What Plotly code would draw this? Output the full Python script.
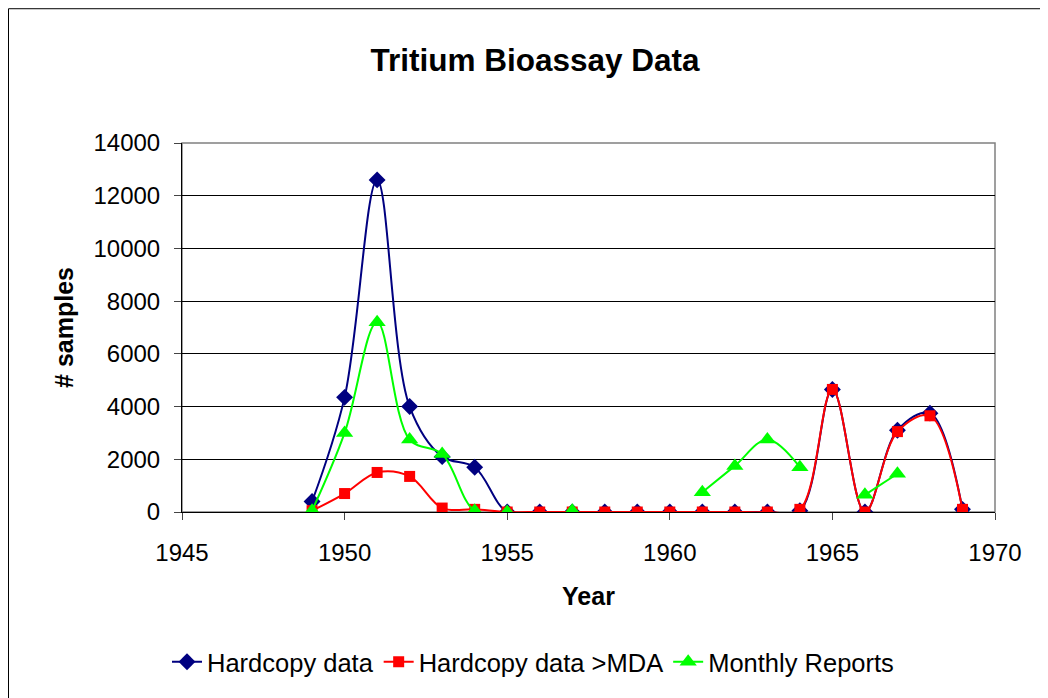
import plotly.graph_objects as go

years = list(range(1949, 1970))
hardcopy = [400, 4350, 12600, 4000, 2100, 1700, 0, 0, 0, 0, 0, 0, 0, 0, 0, 50, 4650, 0, 3100, 3750, 100]
hardcopy_mda = [50, 700, 1500, 1350, 150, 100, 0, 0, 0, 0, 0, 0, 0, 0, 0, 100, 4650, 0, 3050, 3650, 100]
monthly = [50, 3000, 7200, 2750, 2200, 50, 0, None, 50, None, None, None, 750, 1750, 2750, 1700, None, 650, 1450, None, None]

x_ticks = [1945, 1950, 1955, 1960, 1965, 1970]
y_ticks = [0, 2000, 4000, 6000, 8000, 10000, 12000, 14000]
y_ticktext = [str(v) for v in y_ticks]

FONT = "Liberation Sans, Arial, sans-serif"

# page body has an 8px margin; figure is sized/placed to compensate
W, H = 1040, 690
L, T = 174, 135
R = W - (995 - 8)
B = H - (514 - 8)

fig = go.Figure()
fig.add_trace(go.Scatter(x=years, y=hardcopy, name="Hardcopy data", mode="lines+markers",
                         line=dict(color="#000080", width=2, shape="spline", smoothing=1),
                         marker=dict(symbol="diamond", size=13, color="#000080")))
fig.add_trace(go.Scatter(x=years, y=hardcopy_mda, name="Hardcopy data >MDA", mode="lines+markers",
                         line=dict(color="#ff0000", width=2, shape="spline", smoothing=1),
                         marker=dict(symbol="square", size=11, color="#ff0000")))
fig.add_trace(go.Scatter(x=years, y=monthly, name="Monthly Reports", mode="lines+markers",
                         connectgaps=False,
                         line=dict(color="#00ff00", width=2, shape="spline", smoothing=1),
                         marker=dict(symbol="triangle-up", size=15, color="#00ff00")))

fig.update_layout(
    width=W, height=H,
    paper_bgcolor="white", plot_bgcolor="white",
    margin=dict(l=L, r=R, t=T, b=B),
    font=dict(family=FONT, size=24, color="black"),
    title=dict(text="<b>Tritium Bioassay Data</b>", x=(535 - 8) / W, xanchor="center",
               y=1 - (60 - 8) / H, yanchor="middle", yref="container",
               font=dict(size=31.5, family=FONT)),
    showlegend=True,
    legend=dict(orientation="h", x=(533 - 182) / 813, xanchor="center",
                y=(514 - 665) / 371, yanchor="middle",
                font=dict(size=25.5, family=FONT), tracegroupgap=0,
                bgcolor="rgba(0,0,0,0)"),
    xaxis=dict(range=[1945, 1970], tickvals=x_ticks, ticks="outside", ticklen=7,
               ticklabelstandoff=12,
               showline=True, linecolor="black", linewidth=1, showgrid=False, zeroline=False,
               tickfont=dict(size=24),
               title=dict(text="<b>Year</b>", font=dict(size=25), standoff=22)),
    yaxis=dict(range=[0, 14000], tickvals=y_ticks, ticktext=y_ticktext, ticks="outside", ticklen=7,
               ticklabelstandoff=9,
               showline=True, linecolor="black", linewidth=1, showgrid=True,
               gridcolor="black", gridwidth=1, zeroline=False, tickfont=dict(size=24),
               title=dict(text="<b># samples</b>", font=dict(size=25), standoff=12)),
    shapes=[
        dict(type="line", xref="paper", yref="paper", x0=(0.5 - L) / 813, x1=1.2,
             y0=(H - B - 0.0) / 371, y1=(H - B - 0.0) / 371,
             line=dict(color="black", width=1), layer="below"),
        dict(type="line", xref="paper", yref="paper", x0=(0.5 - L) / 813, x1=(0.5 - L) / 813,
             y0=-1, y1=(H - B) / 371,
             line=dict(color="black", width=1), layer="below"),
        dict(type="rect", xref="paper", yref="paper", x0=0, x1=1, y0=0, y1=1,
             line=dict(color="#808080", width=1.5), fillcolor="rgba(0,0,0,0)", layer="below"),
    ],
)

fig.write_html("out.html")
